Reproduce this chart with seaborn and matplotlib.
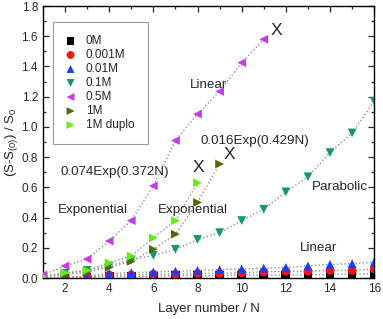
import matplotlib
matplotlib.use("Agg")
import matplotlib.pyplot as plt
from matplotlib.ticker import MultipleLocator
import seaborn as sns
import pandas as pd

# layer number
layers = list(range(1, 17))

# relative change
s_0M = [0.0, 0.0, 0.005, 0.01, 0.01, 0.01, 0.015, 0.015, 0.015, 0.02, 0.02, 0.02, 0.02, 0.025, 0.025, 0.03]
s_0001M = [0.0, 0.005, 0.01, 0.02, 0.02, 0.025, 0.025, 0.03, 0.03, 0.035, 0.04, 0.045, 0.045, 0.05, 0.05, 0.06]
s_001M = [0.0, 0.005, 0.01, 0.03, 0.035, 0.04, 0.045, 0.05, 0.055, 0.06, 0.065, 0.07, 0.08, 0.09, 0.095, 0.105]
s_01M = [0.01, 0.03, 0.05, 0.08, 0.12, 0.15, 0.19, 0.255, 0.30, 0.38, 0.455, 0.57, 0.67, 0.83, 0.96, 1.17]
s_05M = [0.02, 0.08, 0.125, 0.245, 0.38, 0.61, 0.91, 1.085, 1.235, 1.425, 1.58]
s_1M = [0.01, 0.02, 0.04, 0.07, 0.11, 0.19, 0.29, 0.50, 0.755]
s_1M_duplo = [0.01, 0.035, 0.05, 0.10, 0.145, 0.265, 0.38, 0.63]

series = [
    ("0M", s_0M, "s", "black"),
    ("0.001M", s_0001M, "o", "#ff1010"),
    ("0.01M", s_001M, "^", "#1a3cff"),
    ("0.1M", s_01M, "v", "#14966e"),
    ("0.5M", s_05M, "<", "#c43cf0"),
    ("1M", s_1M, ">", "#4e6a08"),
    ("1M duplo", s_1M_duplo, ">", "#5cf20c"),
]

# annotations (text, N, value)
notes = [
    ("Linear", 8.48, 1.28),
    ("0.016Exp(0.429N)", 10.6, 0.91),
    ("0.074Exp(0.372N)", 4.26, 0.70),
    ("Exponential", 3.27, 0.45),
    ("Exponential", 7.8, 0.45),
    ("Parabolic", 14.45, 0.60),
    ("Linear", 13.46, 0.20),
]
crosses = [(11.56, 1.636), (8.02, 0.73), (9.43, 0.815)]

sns.set_style("ticks")
plt.rcParams['font.family'] = ['Liberation Sans', 'DejaVu Sans']
plt.rcParams['mathtext.fontset'] = 'custom'
plt.rcParams['mathtext.rm'] = 'Liberation Sans'
plt.rcParams['mathtext.it'] = 'Liberation Sans'
plt.rcParams['mathtext.default'] = 'regular'

fig = plt.figure(figsize=(3.83, 3.19), dpi=100)
ax = fig.add_axes([0.112, 0.1285, 0.865, 0.8525])

# dotted guide lines first, then markers on top
for name, vals, mk, col in series:
    df = pd.DataFrame({"N": layers[:len(vals)], "v": vals})
    sns.lineplot(data=df, x="N", y="v", ax=ax, color="#909090", linestyle=":",
                 linewidth=1.0, legend=False, zorder=1)

for name, vals, mk, col in series:
    df = pd.DataFrame({"N": layers[:len(vals)], "v": vals})
    sns.scatterplot(data=df, x="N", y="v", ax=ax, marker=mk, color=col, s=40,
                    edgecolor="none", label=name, zorder=3)

for txt, x, y in notes:
    ax.text(x, y, txt, fontsize=9.6, ha="center", va="center")
for x, y in crosses:
    ax.text(x, y, "X", fontsize=12.5, ha="center", va="center")

ax.set_xlim(1, 16)
ax.set_ylim(0, 1.8)
ax.xaxis.set_major_locator(MultipleLocator(2))
ax.xaxis.set_minor_locator(MultipleLocator(1))
ax.yaxis.set_major_locator(MultipleLocator(0.2))
ax.yaxis.set_minor_locator(MultipleLocator(0.1))
ax.tick_params(which="both", direction="in", top=True, right=True, labelsize=8.5, width=0.9)
ax.tick_params(which="major", length=4)
ax.tick_params(which="minor", length=2)
for sp in ax.spines.values():
    sp.set_linewidth(1.0)
    sp.set_color("black")

ax.set_xlabel("Layer number / N", fontsize=9.5, labelpad=6)
ax.set_ylabel("(S-S$_{(0)}$) / S$_0$", fontsize=9.5, labelpad=1)

leg = ax.legend(loc="upper left", bbox_to_anchor=(0.03, 0.941), fontsize=8.5,
                frameon=True, fancybox=False, edgecolor="#808080",
                handletextpad=0.9, labelspacing=0.17, borderpad=1.1,
                handlelength=0.8, markerscale=0.9, borderaxespad=0)
leg.get_frame().set_linewidth(0.8)

plt.savefig("out.png", dpi=100)
